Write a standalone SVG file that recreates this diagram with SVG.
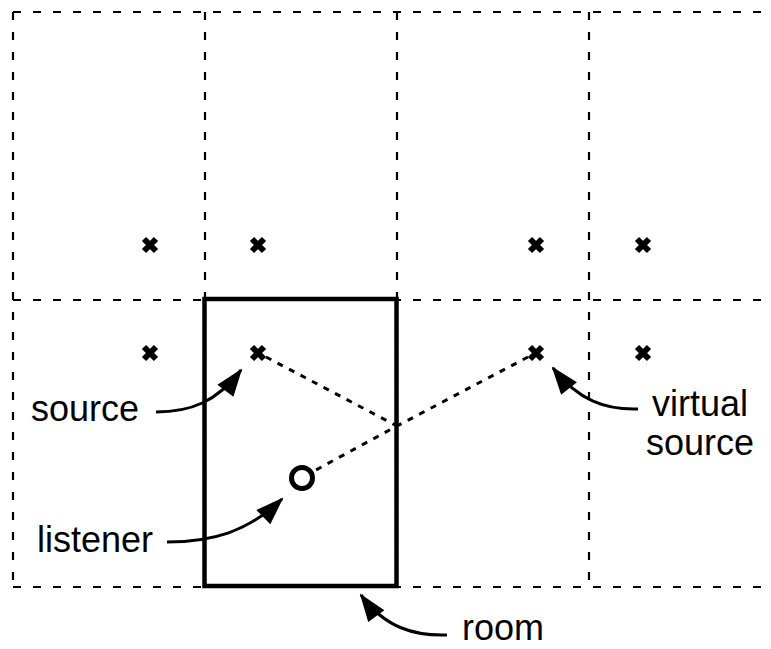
<svg xmlns="http://www.w3.org/2000/svg" width="771" height="649" viewBox="0 0 771 649">
<style>
.grid{stroke:#000;stroke-width:2.2;stroke-dasharray:8 12;fill:none}
.room{stroke:#000;stroke-width:4.5;fill:none}
.x{stroke:#000;stroke-width:6;fill:none;stroke-linecap:butt}
.ray{stroke:#000;stroke-width:3;stroke-dasharray:6 7;fill:none}
.arr{stroke:#000;stroke-width:3;fill:none;marker-end:url(#ah)}
.lbl{font-family:"Liberation Sans",Arial,sans-serif;font-size:36px;fill:#000}
</style>
<defs>
<marker id="ah" markerUnits="userSpaceOnUse" orient="auto" viewBox="-30 -12 34 24" refX="0" refY="0" markerWidth="34" markerHeight="24">
<path d="M2,0 L-26,-10 L-26,10 Z" fill="#000"/>
</marker>
</defs>
<rect width="771" height="649" fill="#fff"/>
<g id="grid">
<line class="grid" x1="13" y1="12" x2="771" y2="12"/>
<line class="grid" x1="13" y1="300" x2="771" y2="300"/>
<line class="grid" x1="13" y1="587" x2="771" y2="587"/>
<line class="grid" x1="13" y1="12" x2="13" y2="587"/>
<line class="grid" x1="205" y1="12" x2="205" y2="587"/>
<line class="grid" x1="397" y1="12" x2="397" y2="587"/>
<line class="grid" x1="589" y1="12" x2="589" y2="587"/>
</g>
<g id="room">
<rect class="room" x="204.5" y="299" width="192" height="287"/>
</g>
<g id="sources">
<path class="x" d="M144,239 L156,251 M144,251 L156,239"/>
<path class="x" d="M252,239 L264,251 M252,251 L264,239"/>
<path class="x" d="M530,239 L542,251 M530,251 L542,239"/>
<path class="x" d="M637,239 L649,251 M637,251 L649,239"/>
<path class="x" d="M144,347 L156,359 M144,359 L156,347"/>
<path class="x" d="M637,347 L649,359 M637,359 L649,347"/>
</g>
<g id="source">
<path class="x" d="M252,347 L264,359 M252,359 L264,347"/>
</g>
<g id="virtual-source">
<path class="x" d="M530,347 L542,359 M530,359 L542,347"/>
</g>
<g id="listener">
<circle cx="302" cy="478" r="10.5" fill="none" stroke="#000" stroke-width="5"/>
</g>
<g id="connectors">
<path class="ray" d="M266,357 L397,426"/>
<path class="ray" d="M528,357 L397,426 L314,471"/>
<path class="arr" d="M156,412 C190,412 217,402 241,370"/>
<path class="arr" d="M167,542 C212,542 248,532 282,499"/>
<path class="arr" d="M638,409 C605,410 578,400 553,368"/>
<path class="arr" d="M447,635 C415,636 385,628 361,595"/>
</g>
<g id="labels">
<text class="lbl" x="31" y="421">source</text>
<text class="lbl" x="37" y="552">listener</text>
<text class="lbl" x="700" y="416" text-anchor="middle">virtual</text>
<text class="lbl" x="700" y="455" text-anchor="middle">source</text>
<text class="lbl" x="462" y="640">room</text>
</g>
</svg>
